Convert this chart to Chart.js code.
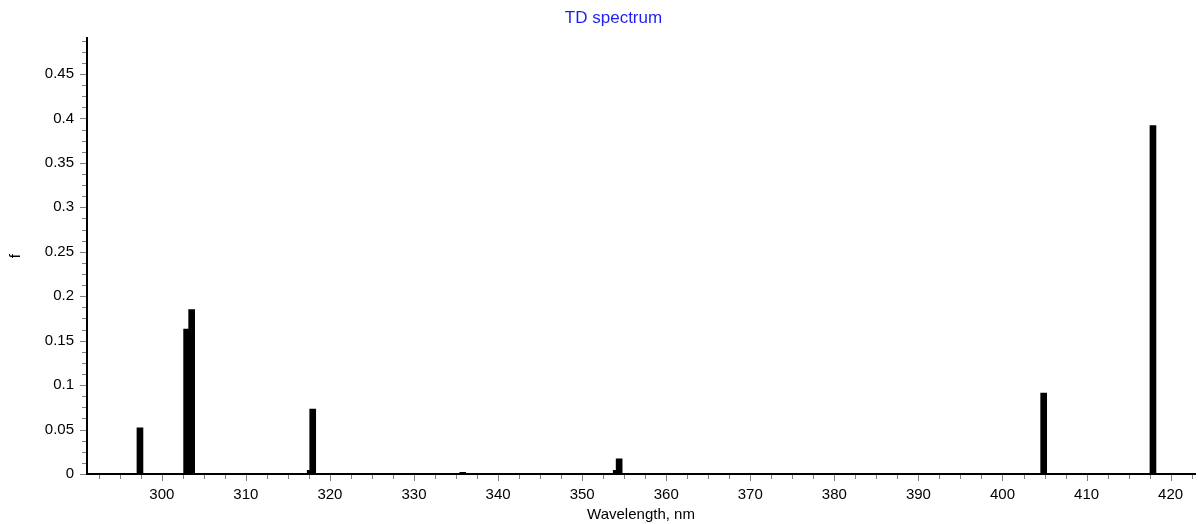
<!DOCTYPE html>
<html>
<head>
<meta charset="utf-8">
<script src="https://cdn.jsdelivr.net/npm/chart.js@4"></script>
<style>
  html, body { margin: 0; padding: 0; background: #fff; }
  #wrap { width: 1198px; height: 524px; }
</style>
</head>
<body>
<div id="wrap"><canvas id="td"></canvas></div>
<script>
// excitation wavelengths (nm) and oscillator strengths
var wavelengths = [297.4, 302.95, 303.55, 317.65, 317.95, 335.8, 354.05, 354.4, 404.9, 417.9];
var strengths   = [0.052, 0.163, 0.185, 0.004, 0.073, 0.002, 0.004, 0.017, 0.091, 0.392];

var xMin = 291.1, xMax = 422.9;
var yMin = 0, yMax = 0.49;

var pts = [];
for (var i = 0; i < wavelengths.length; i++)
	pts.push({x: wavelengths[i], y: strengths[i]});

// draws the small outside ticks (major + minor) like the original plot
var tickMarks = {
	id: 'tickMarks',
	afterLayout: function(chart) {
		// title sits a bit right of the canvas centre in the original
		if (chart.titleBlock) { chart.titleBlock.left += 16; chart.titleBlock.right += 16; }
	},
	afterDraw: function(chart) {
		var c = chart.ctx, xs = chart.scales.x, ys = chart.scales.y;
		c.save();
		c.strokeStyle = '#808080';
		c.lineWidth = 1;
		c.beginPath();
		for (var v = 292.5; v <= xMax; v += 2.5) {
			var px = Math.round(xs.getPixelForValue(v)) + 0.5;
			var len = (Math.abs(v % 10) < 0.01) ? 6 : 4;
			c.moveTo(px, xs.top + 1);
			c.lineTo(px, xs.top + 1 + len);
		}
		for (var k = 0; k * 0.0125 <= yMax; k++) {
			var py = Math.round(ys.getPixelForValue(k * 0.0125)) + 0.5;
			var l = (k % 4 == 0) ? 6 : 4;
			c.moveTo(ys.right - 1, py);
			c.lineTo(ys.right - 1 - l, py);
		}
		c.stroke();
		c.restore();
	}
};

var ctx = document.getElementById('td').getContext('2d');
var chart = new Chart(ctx, {
	type: 'bar',
	data: {
		datasets: [{
			label: 'f',
			data: pts,
			backgroundColor: '#000',
			borderWidth: 0,
			barThickness: 6
		}]
	},
	options: {
		responsive: true,
		maintainAspectRatio: false,
		animation: false,
		layout: { padding: { left: 0, right: 3, top: 0, bottom: 0 } },
		plugins: {
			legend: { display: false },
			tooltip: { enabled: false },
			title: {
				display: true,
				text: 'TD spectrum',
				color: '#1f1ff5',
				font: { family: 'Liberation Sans', size: 17, weight: 'normal' },
				padding: { top: 8, bottom: 10 }
			}
		},
		scales: {
			x: {
				type: 'linear',
				min: xMin,
				max: xMax,
				offset: false,
				grid: { display: false },
				border: { display: true, color: '#000', width: 2 },
				afterFit: function(s) { s.height = 50; },
				ticks: {
					stepSize: 10,
					includeBounds: false,
					padding: 4,
					color: '#000',
					font: { family: 'Liberation Sans', size: 15 },
					maxRotation: 0
				},
				title: {
					display: true,
					text: 'Wavelength, nm',
					color: '#000',
					font: { family: 'Liberation Sans', size: 15 },
					padding: { top: 0, bottom: 0 }
				}
			},
			y: {
				min: yMin,
				max: yMax,
				grid: { display: false },
				border: { display: true, color: '#000', width: 2 },
				afterFit: function(s) { s.width = 87; },
				ticks: {
					stepSize: 0.05,
					includeBounds: false,
					padding: 5,
					color: '#000',
					font: { family: 'Liberation Sans', size: 15 },
					callback: function(v) { return +v.toFixed(2); }
				},
				title: {
					display: true,
					text: 'f',
					color: '#000',
					font: { family: 'Liberation Sans', size: 15 },
					padding: { top: 7, bottom: 0 }
				}
			}
		}
	},
	plugins: [tickMarks]
});
</script>
</body>
</html>
